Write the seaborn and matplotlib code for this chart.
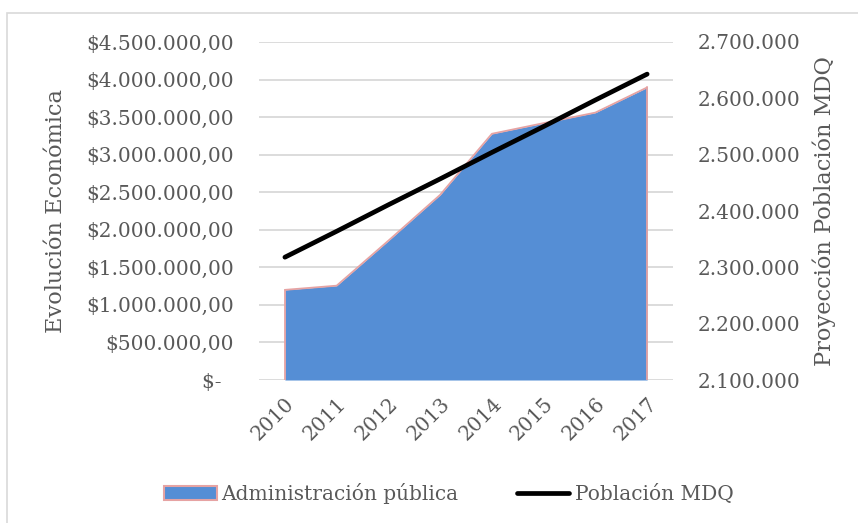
import matplotlib
matplotlib.use("Agg")
import matplotlib.pyplot as plt
from matplotlib.patches import Patch, Rectangle
from matplotlib.lines import Line2D
from matplotlib.ticker import FuncFormatter, MultipleLocator
import seaborn as sns
import pandas as pd

# Data
years = ["2010", "2011", "2012", "2013", "2014", "2015", "2016", "2017"]
admin_publica = [1200000, 1256000, 1855000, 2465000, 3278000, 3420000, 3560000, 3895000]
poblacion_mdq = [2318000, 2364000, 2411000, 2457000, 2504000, 2550000, 2597000, 2643000]

sns.set_theme(style="white")
plt.rcParams["font.family"] = ["DejaVu Serif"]
text_color = "#595959"
grid_color = "#D9D9D9"
fs = 14.5
label_fs = 16.2

df = pd.DataFrame({"year": years, "pos": range(len(years)),
                   "admin": admin_publica, "pob": poblacion_mdq})

fig = plt.figure(figsize=(8.58, 5.23), dpi=100)
ax = fig.add_axes([0.3019, 0.2734, 0.4825, 0.6463])

# Area: economic evolution
ax.fill_between(df["pos"], 0, df["admin"], color="#558ED5", zorder=2, linewidth=0)
sns.lineplot(data=df, x="pos", y="admin", ax=ax, color="#E6A3A3", linewidth=1.3, zorder=3)
ax.plot([0, 0], [0, admin_publica[0]], color="#E6A3A3", linewidth=1.3, zorder=3)
ax.plot([len(years) - 1] * 2, [0, admin_publica[-1]], color="#E6A3A3", linewidth=1.3, zorder=3)

ax.set_xlim(-0.5, len(years) - 0.5)
ax.set_ylim(0, 4500000)
ax.yaxis.set_major_locator(MultipleLocator(500000))
ax.grid(axis="y", color=grid_color, linewidth=1.3, zorder=0)
ax.set_axisbelow(True)


def money(v, _):
    if abs(v) < 1:
        return "$-  "
    s = f"{v:,.2f}".replace(",", "X").replace(".", ",").replace("X", ".")
    return "$" + s


ax.yaxis.set_major_formatter(FuncFormatter(money))
ax.set_xticks(list(df["pos"]))
ax.set_xticklabels(years, rotation=45, ha="right", va="top", rotation_mode="anchor")
ax.tick_params(axis="x", length=0, pad=10, labelsize=fs, labelcolor=text_color)
ax.tick_params(axis="y", length=0, pad=18, labelsize=fs, labelcolor=text_color)
for s in ax.spines.values():
    s.set_visible(False)
ax.set_xlabel("")
ax.set_ylabel("Evolución Económica", fontsize=label_fs, color=text_color)
ax.yaxis.set_label_coords(-0.464, 0.5)

# Line: population projection on the secondary axis
ax2 = ax.twinx()
sns.lineplot(data=df, x="pos", y="pob", ax=ax2, color="black", linewidth=3.4,
             solid_capstyle="round", zorder=4)
ax2.set_ylim(2100000, 2700000)
ax2.yaxis.set_major_locator(MultipleLocator(100000))
ax2.yaxis.set_major_formatter(FuncFormatter(lambda v, _: f"{v:,.0f}".replace(",", ".")))
ax2.tick_params(axis="y", length=0, pad=18, labelsize=fs, labelcolor=text_color)
for s in ax2.spines.values():
    s.set_visible(False)
ax2.grid(False)
ax2.set_xlabel("")
ax2.set_ylabel("Proyección Población MDQ", fontsize=label_fs, color=text_color)
ax2.yaxis.set_label_coords(1.338, 0.5)
ax.set_xlim(-0.5, len(years) - 0.5)

# Legend
handles = [Patch(facecolor="#558ED5", edgecolor="#E6A3A3", linewidth=1.5),
           Line2D([0], [0], color="black", linewidth=3.4, solid_capstyle="round")]
fig.legend(handles, ["Administración pública", "Población MDQ"], loc="center",
           bbox_to_anchor=(0.523, 0.057), ncol=2, frameon=False, fontsize=fs,
           labelcolor=text_color, handlelength=2.6, handletextpad=0.25, columnspacing=2.9)

# Chart border
fig.patches.append(Rectangle((7 / 858, -0.1), 1.2, (523 - 13) / 523 + 0.1,
                             transform=fig.transFigure, fill=False,
                             edgecolor="#D9D9D9", linewidth=1.2, zorder=0))

fig.savefig("out.png", dpi=100)
